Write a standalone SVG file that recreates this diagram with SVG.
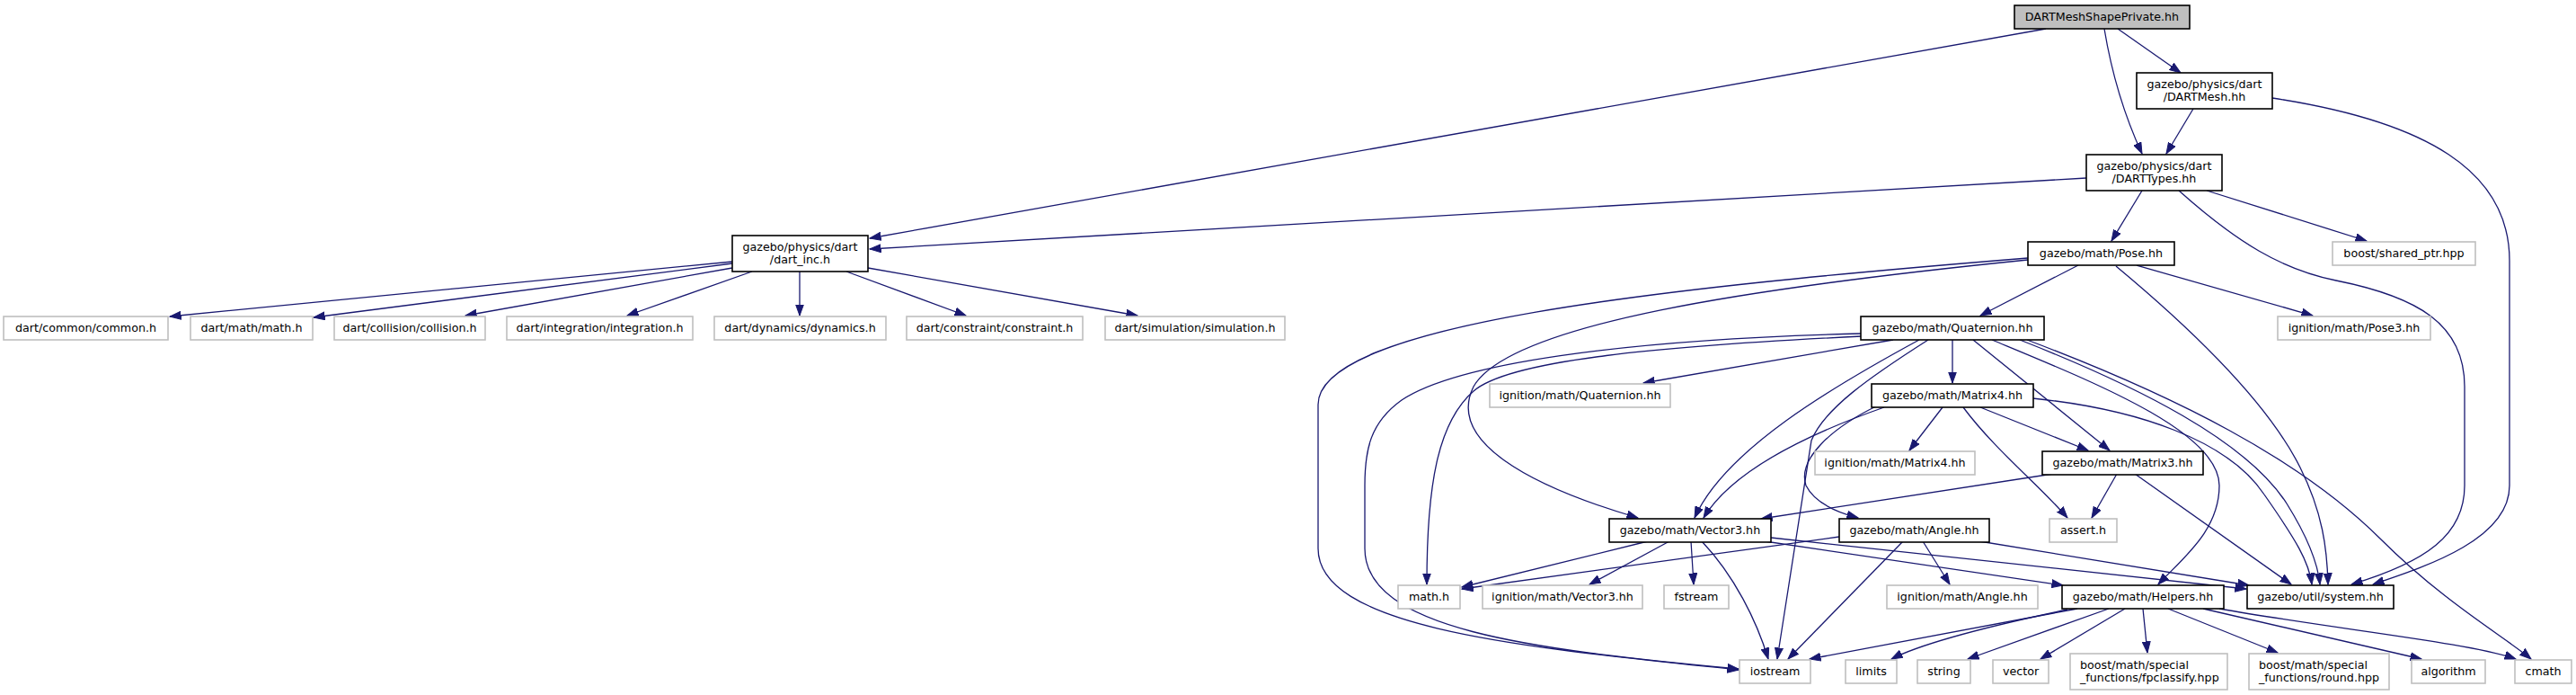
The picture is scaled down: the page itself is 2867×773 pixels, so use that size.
<svg xmlns="http://www.w3.org/2000/svg" width="2867" height="773" viewBox="0 0 2867 773">
<style>
.bx{fill:#ffffff;stroke:#000000;stroke-width:1.6}
.gx{fill:#ffffff;stroke:#bfbfbf;stroke-width:1.6}
.top{fill:#bfbfbf;stroke:#000000;stroke-width:1.6}
text{font-family:"DejaVu Sans","Liberation Sans",sans-serif;font-size:12.7px;fill:#000000}
.c{text-anchor:middle}
.e path{fill:none;stroke:#191970;stroke-width:1.3;marker-end:url(#a)}
</style>
<defs>
<marker id="a" markerUnits="userSpaceOnUse" markerWidth="14" markerHeight="10" refX="12.5" refY="5" orient="auto">
<path d="M0,0.5 L12.5,5 L0,9.5 z" fill="#191970" stroke="#191970" stroke-width="1"/>
</marker>
</defs>
<rect width="2867" height="773" fill="#ffffff"/>
<g class="e" id="edges">
<path d="M2277,32 L968,265"/>
<path d="M2342,32 C2350,80 2365,130 2384,171"/>
<path d="M2357,32 L2427,81"/>
<path d="M2441,121 L2411,171"/>
<path d="M2529,109 C2700,135 2793,190 2793,290 L2793,540 C2793,600 2700,630 2641,650"/>
<path d="M2322,198 L968,277"/>
<path d="M2384,212 L2350,268"/>
<path d="M2456,212 L2634,268"/>
<path d="M2425,212 C2490,270 2540,300 2600,312 C2690,330 2743,360 2743,430 L2743,540 C2743,595 2700,625 2617,650"/>
<path d="M815,291 L189,352"/>
<path d="M815,293 L349,353"/>
<path d="M815,298 L518,351"/>
<path d="M837,302 L698,351"/>
<path d="M890,302 L890,351"/>
<path d="M942,302 L1075,351"/>
<path d="M966,298 L1266,351"/>
<path d="M2313,295 L2204,351"/>
<path d="M2378,295 L2574,351"/>
<path d="M2355,296 C2420,350 2520,440 2560,520 C2585,570 2590,610 2591,650"/>
<path d="M2257,289 C1950,320 1680,360 1640,430 C1610,490 1700,540 1823,576"/>
<path d="M2257,287 C1850,320 1467,360 1467,450 L1467,610 C1467,700 1700,720 1935,745"/>
<path d="M2072,371 C1800,378 1620,405 1560,445 C1525,470 1519,500 1519,540 L1519,610 C1519,700 1700,722 1935,744"/>
<path d="M2072,374 C1850,385 1680,400 1640,435 C1600,470 1588,540 1588,650"/>
<path d="M2107,378 L1829,426"/>
<path d="M2136,378 C2040,430 1920,500 1886,576"/>
<path d="M2146,378 C2080,420 2030,455 2016,490 L1978,733"/>
<path d="M2173,378 L2173,426"/>
<path d="M2196,378 L2348,501"/>
<path d="M2217,378 C2330,425 2470,480 2470,540 C2470,590 2430,620 2402,650"/>
<path d="M2248,378 C2380,430 2500,490 2545,560 C2570,600 2580,630 2582,650"/>
<path d="M2256,378 C2420,440 2560,510 2650,600 C2720,670 2790,710 2817,733"/>
<path d="M2162,453 L2125,501"/>
<path d="M2185,453 C2220,500 2270,540 2301,576"/>
<path d="M2204,453 L2324,501"/>
<path d="M2262,443 C2380,455 2480,490 2520,550 C2555,600 2570,625 2573,650"/>
<path d="M2097,453 C2020,480 1930,520 1896,576"/>
<path d="M2090,451 C2040,475 2000,510 2010,540 C2020,560 2045,570 2068,576"/>
<path d="M2356,527 L2328,576"/>
<path d="M2376,527 L2550,650"/>
<path d="M2285,527 L1960,577"/>
<path d="M1834,602 L1627,653"/>
<path d="M1858,602 L1769,650"/>
<path d="M1882,602 L1885,650"/>
<path d="M1894,602 C1930,640 1955,690 1968,733"/>
<path d="M1964,602 L2296,651"/>
<path d="M1971,598 L2500,655"/>
<path d="M2047,597 L1627,655"/>
<path d="M2118,602 L1990,733"/>
<path d="M2140,602 L2170,650"/>
<path d="M2203,602 L2503,651"/>
<path d="M2312,677 L2014,733"/>
<path d="M2301,678 C2220,695 2140,715 2105,733"/>
<path d="M2347,677 L2190,733"/>
<path d="M2365,677 L2271,733"/>
<path d="M2385,677 L2390,726"/>
<path d="M2413,677 L2535,726"/>
<path d="M2452,677 L2695,733"/>
<path d="M2470,677 C2600,700 2750,715 2800,733"/>
</g>
<g id="n0"><rect class="top" x="2242" y="6" width="195" height="26"/><text class="c" x="2339.5" y="23">DARTMeshShapePrivate.hh</text></g>
<g id="n1"><rect class="bx" x="2378" y="81" width="151" height="40"/><text class="c" x="2453.5" y="98">gazebo/physics/dart</text><text class="c" x="2453.5" y="112">/DARTMesh.hh</text></g>
<g id="n2"><rect class="bx" x="2322" y="172" width="151" height="40"/><text class="c" x="2397.5" y="189">gazebo/physics/dart</text><text class="c" x="2397.5" y="203">/DARTTypes.hh</text></g>
<g id="n3"><rect class="bx" x="815" y="262" width="151" height="40"/><text class="c" x="890.5" y="279">gazebo/physics/dart</text><text class="c" x="890.5" y="293">/dart_inc.h</text></g>
<g id="n4"><rect class="bx" x="2257" y="269" width="163" height="26"/><text class="c" x="2338.5" y="286">gazebo/math/Pose.hh</text></g>
<g id="n5"><rect class="gx" x="2596" y="269" width="159" height="26"/><text class="c" x="2675.5" y="286">boost/shared_ptr.hpp</text></g>
<g id="n6"><rect class="gx" x="4" y="352" width="183" height="26"/><text class="c" x="95.5" y="369">dart/common/common.h</text></g>
<g id="n7"><rect class="gx" x="212" y="352" width="136" height="26"/><text class="c" x="280" y="369">dart/math/math.h</text></g>
<g id="n8"><rect class="gx" x="372" y="352" width="168" height="26"/><text class="c" x="456" y="369">dart/collision/collision.h</text></g>
<g id="n9"><rect class="gx" x="564" y="352" width="207" height="26"/><text class="c" x="667.5" y="369">dart/integration/integration.h</text></g>
<g id="n10"><rect class="gx" x="795" y="352" width="191" height="26"/><text class="c" x="890.5" y="369">dart/dynamics/dynamics.h</text></g>
<g id="n11"><rect class="gx" x="1009" y="352" width="196" height="26"/><text class="c" x="1107" y="369">dart/constraint/constraint.h</text></g>
<g id="n12"><rect class="gx" x="1230" y="352" width="200" height="26"/><text class="c" x="1330" y="369">dart/simulation/simulation.h</text></g>
<g id="n13"><rect class="bx" x="2071" y="352" width="204" height="26"/><text class="c" x="2173" y="369">gazebo/math/Quaternion.hh</text></g>
<g id="n14"><rect class="gx" x="2535" y="352" width="170" height="26"/><text class="c" x="2620" y="369">ignition/math/Pose3.hh</text></g>
<g id="n15"><rect class="gx" x="1658" y="427" width="201" height="26"/><text class="c" x="1758.5" y="444">ignition/math/Quaternion.hh</text></g>
<g id="n16"><rect class="bx" x="2083" y="427" width="180" height="26"/><text class="c" x="2173" y="444">gazebo/math/Matrix4.hh</text></g>
<g id="n17"><rect class="gx" x="2020" y="502" width="178" height="26"/><text class="c" x="2109" y="519">ignition/math/Matrix4.hh</text></g>
<g id="n18"><rect class="bx" x="2273" y="502" width="179" height="26"/><text class="c" x="2362.5" y="519">gazebo/math/Matrix3.hh</text></g>
<g id="n19"><rect class="bx" x="1791" y="577" width="180" height="26"/><text class="c" x="1881" y="594">gazebo/math/Vector3.hh</text></g>
<g id="n20"><rect class="bx" x="2047" y="577" width="167" height="26"/><text class="c" x="2130.5" y="594">gazebo/math/Angle.hh</text></g>
<g id="n21"><rect class="gx" x="2281" y="577" width="75" height="26"/><text class="c" x="2318.5" y="594">assert.h</text></g>
<g id="n22"><rect class="gx" x="1556" y="651" width="69" height="26"/><text class="c" x="1590.5" y="668">math.h</text></g>
<g id="n23"><rect class="gx" x="1650" y="651" width="178" height="26"/><text class="c" x="1739" y="668">ignition/math/Vector3.hh</text></g>
<g id="n24"><rect class="gx" x="1852" y="651" width="72" height="26"/><text class="c" x="1888" y="668">fstream</text></g>
<g id="n25"><rect class="gx" x="2100" y="651" width="168" height="26"/><text class="c" x="2184" y="668">ignition/math/Angle.hh</text></g>
<g id="n26"><rect class="bx" x="2295" y="651" width="180" height="26"/><text class="c" x="2385" y="668">gazebo/math/Helpers.hh</text></g>
<g id="n27"><rect class="bx" x="2501" y="651" width="163" height="26"/><text class="c" x="2582.5" y="668">gazebo/util/system.hh</text></g>
<g id="n28"><rect class="gx" x="1936" y="734" width="79" height="26"/><text class="c" x="1975.5" y="751">iostream</text></g>
<g id="n29"><rect class="gx" x="2054" y="734" width="57" height="26"/><text class="c" x="2082.5" y="751">limits</text></g>
<g id="n30"><rect class="gx" x="2134" y="734" width="59" height="26"/><text class="c" x="2163.5" y="751">string</text></g>
<g id="n31"><rect class="gx" x="2218" y="734" width="62" height="26"/><text class="c" x="2249" y="751">vector</text></g>
<g id="n32"><rect class="gx" x="2304" y="727" width="175" height="40"/><text x="2315" y="744">boost/math/special</text><text x="2315" y="758">_functions/fpclassify.hpp</text></g>
<g id="n33"><rect class="gx" x="2503" y="727" width="156" height="40"/><text x="2514" y="744">boost/math/special</text><text x="2514" y="758">_functions/round.hpp</text></g>
<g id="n34"><rect class="gx" x="2684" y="734" width="82" height="26"/><text class="c" x="2725" y="751">algorithm</text></g>
<g id="n35"><rect class="gx" x="2799" y="734" width="63" height="26"/><text class="c" x="2830.5" y="751">cmath</text></g>
</svg>
